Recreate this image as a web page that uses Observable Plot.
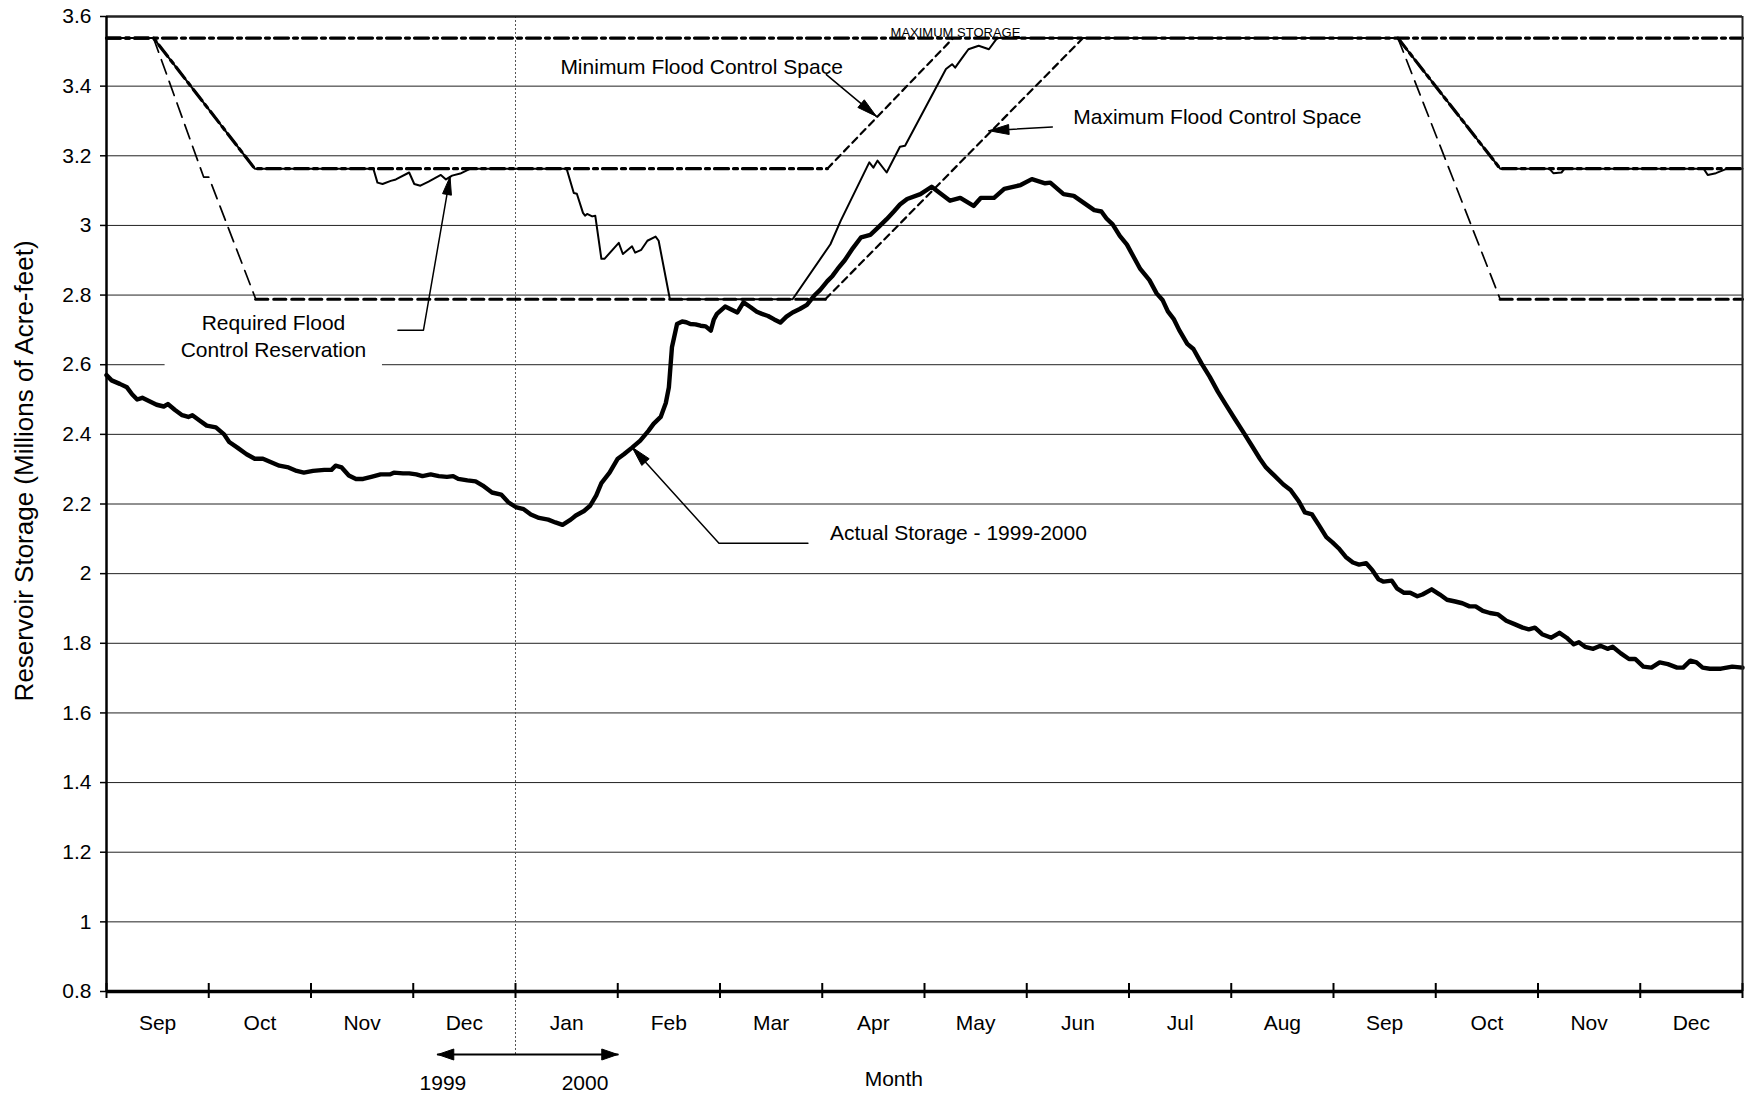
<!DOCTYPE html>
<html>
<head>
<meta charset="utf-8">
<script src="https://cdn.jsdelivr.net/npm/d3@7"></script>
<script src="https://cdn.jsdelivr.net/npm/@observablehq/plot@0.6"></script>
<style>
  body { margin: 0; background: #fff; }
  svg { display: block; }
</style>
</head>
<body>
<div id="chart"></div>
<script>
// ---------- data ----------
const months = ["Sep","Oct","Nov","Dec","Jan","Feb","Mar","Apr","May","Jun","Jul","Aug","Sep","Oct","Nov","Dec"];
const monthBoundaries = [0,1,2,3,4,5,6,7,8,9,10,11,12,13,14,15,16];
const monthCenters = [0.5,1.5,2.5,3.5,4.5,5.5,6.5,7.5,8.5,9.5,10.5,11.5,12.5,13.5,14.5,15.5];
const yTicks = [0.8,1,1.2,1.4,1.6,1.8,2,2.2,2.4,2.6,2.8,3,3.2,3.4,3.6];
const gridValues = [1,1.2,1.4,1.6,1.8,2,2.2,2.4,2.6,2.8,3,3.2,3.4];

// [month position since 1 Sep 1999, storage in MAF]
const maximumStorage = [[0,3.538],[16,3.538]];
const minFloodFlat1 = [[0,3.538],[0.46,3.538],[1.45,3.163],[7.05,3.163]];
const minFloodRise = [[7.05,3.163],[8.28,3.538]];
const minFloodFlat2 = [[12.63,3.538],[13.63,3.163],[16,3.163]];
const maxFloodDescent1 = [[0.46,3.538],[0.95,3.139],[1.0,3.139],[1.46,2.788]];
const maxFloodFlat1 = [[1.46,2.788],[7.03,2.788]];
const maxFloodRise = [[7.03,2.788],[9.55,3.538]];
const maxFloodDescent2 = [[12.63,3.538],[13.63,2.788]];
const maxFloodFlat2 = [[13.63,2.788],[16,2.788]];

const requiredReservation = [
[0,3.538],[0.46,3.538],[1.45,3.163],[2.61,3.163],[2.65,3.123],[2.7,3.119],[2.78,3.128],[2.83,3.132],[2.96,3.152],[3.01,3.119],[3.07,3.114],[3.15,3.126],[3.27,3.145],[3.32,3.132],[3.38,3.143],[3.46,3.149],[3.56,3.163],
[4.5,3.163],[4.57,3.093],[4.6,3.091],[4.66,3.036],[4.68,3.028],[4.7,3.033],[4.75,3.026],[4.78,3.028],[4.84,2.904],[4.87,2.904],[5.01,2.95],[5.05,2.918],[5.14,2.94],[5.17,2.922],[5.23,2.93],[5.29,2.956],[5.37,2.968],[5.4,2.956],[5.51,2.788],
[6.71,2.788],[7.08,2.946],[7.18,3.013],[7.46,3.181],[7.5,3.166],[7.54,3.186],[7.63,3.152],[7.76,3.226],[7.81,3.229],[8.21,3.449],[8.27,3.463],[8.3,3.453],[8.37,3.482],[8.43,3.506],[8.53,3.516],[8.63,3.506],[8.71,3.538],
[12.63,3.538],[13.63,3.163],[14.11,3.163],[14.15,3.15],[14.23,3.152],[14.26,3.163],[15.62,3.163],[15.66,3.145],[15.74,3.15],[15.85,3.163],[16,3.163]
];

const actualStorage = [
[0,2.57],[0.05,2.555],[0.13,2.545],[0.2,2.535],[0.25,2.515],[0.3,2.5],[0.35,2.505],[0.42,2.495],[0.49,2.485],[0.56,2.48],
[0.6,2.487],[0.67,2.47],[0.74,2.455],[0.8,2.45],[0.84,2.455],[0.91,2.44],[0.98,2.425],[1.07,2.42],[1.15,2.4],[1.2,2.378],
[1.28,2.362],[1.37,2.343],[1.45,2.33],[1.53,2.33],[1.61,2.32],[1.69,2.31],[1.78,2.305],[1.86,2.295],[1.93,2.29],[2.02,2.295],
[2.13,2.298],[2.2,2.298],[2.24,2.31],[2.3,2.305],[2.37,2.282],[2.44,2.272],[2.51,2.272],[2.59,2.278],[2.68,2.285],[2.77,2.285],
[2.81,2.29],[2.9,2.288],[2.96,2.288],[3.03,2.285],[3.09,2.28],[3.17,2.285],[3.25,2.28],[3.33,2.278],[3.39,2.28],[3.44,2.272],
[3.53,2.268],[3.61,2.265],[3.68,2.253],[3.77,2.233],[3.86,2.227],[3.93,2.205],[4.01,2.19],[4.08,2.185],[4.15,2.17],[4.23,2.16],
[4.32,2.155],[4.39,2.147],[4.46,2.14],[4.54,2.155],[4.59,2.167],[4.67,2.18],[4.73,2.195],[4.79,2.225],[4.84,2.26],[4.92,2.29],
[5.0,2.33],[5.06,2.343],[5.14,2.362],[5.22,2.382],[5.3,2.41],[5.35,2.43],[5.42,2.45],[5.47,2.49],[5.5,2.535],[5.53,2.65],
[5.58,2.717],[5.63,2.724],[5.67,2.722],[5.71,2.717],[5.76,2.716],[5.81,2.712],[5.86,2.71],[5.91,2.698],[5.94,2.73],[5.97,2.746],
[6.05,2.767],[6.1,2.76],[6.17,2.75],[6.23,2.779],[6.3,2.765],[6.36,2.752],[6.41,2.746],[6.47,2.74],[6.53,2.73],[6.59,2.721],
[6.65,2.738],[6.71,2.75],[6.78,2.76],[6.85,2.772],[6.92,2.798],[6.98,2.815],[7.05,2.84],[7.1,2.855],[7.15,2.875],[7.22,2.9],
[7.3,2.935],[7.38,2.966],[7.47,2.973],[7.55,2.995],[7.63,3.018],[7.7,3.04],[7.76,3.06],[7.83,3.076],[7.96,3.09],[8.07,3.111],
[8.15,3.093],[8.25,3.071],[8.35,3.079],[8.48,3.056],[8.55,3.079],[8.68,3.079],[8.78,3.105],[8.94,3.116],[9.05,3.133],[9.18,3.121],
[9.23,3.123],[9.36,3.09],[9.46,3.085],[9.66,3.044],[9.73,3.04],[9.78,3.02],[9.84,3.003],[9.91,2.97],[9.98,2.945],[10.05,2.907],
[10.11,2.875],[10.2,2.843],[10.27,2.805],[10.33,2.785],[10.38,2.753],[10.44,2.73],[10.49,2.7],[10.57,2.66],[10.63,2.645],[10.71,2.603],
[10.79,2.565],[10.87,2.522],[10.95,2.484],[11.04,2.442],[11.11,2.41],[11.2,2.368],[11.28,2.33],[11.34,2.305],[11.42,2.282],[11.51,2.256],
[11.58,2.24],[11.66,2.208],[11.72,2.176],[11.79,2.17],[11.86,2.138],[11.93,2.105],[11.99,2.09],[12.05,2.073],[12.12,2.048],[12.19,2.032],
[12.25,2.026],[12.32,2.03],[12.38,2.01],[12.44,1.984],[12.49,1.977],[12.57,1.98],[12.62,1.958],[12.69,1.945],[12.75,1.945],[12.82,1.935],
[12.87,1.94],[12.96,1.955],[13.04,1.94],[13.11,1.925],[13.19,1.92],[13.26,1.915],[13.33,1.906],[13.39,1.906],[13.46,1.893],[13.53,1.887],
[13.61,1.883],[13.69,1.865],[13.77,1.855],[13.85,1.845],[13.91,1.84],[13.97,1.845],[14.04,1.826],[14.13,1.816],[14.21,1.83],[14.28,1.816],
[14.35,1.797],[14.4,1.803],[14.46,1.79],[14.54,1.784],[14.61,1.793],[14.68,1.784],[14.73,1.79],[14.81,1.771],[14.89,1.755],[14.95,1.755],
[15.03,1.733],[15.11,1.73],[15.19,1.745],[15.27,1.74],[15.36,1.73],[15.42,1.73],[15.49,1.75],[15.55,1.745],[15.61,1.73],[15.68,1.727],
[15.79,1.727],[15.9,1.733],[16,1.73]
];

// annotations (data coordinates)
const centeredLabels = ["Minimum Flood Control Space","Required Flood\nControl Reservation"];
const centeredAnchors = [[5.82,3.461],[1.633,2.687]];
const leftLabels = ["Maximum Flood Control Space","Actual Storage - 1999-2000"];
const leftAnchors = [[9.455,3.312],[7.076,2.115]];
const labelBox = [[0.573,2.699,2.57,2.77]];
const requiredLeader = [[2.85,2.699],[3.1,2.699],[3.36,3.14]];
const minimumLeader = [[7.04,3.433],[7.53,3.313]];
const maximumLeader = [[9.25,3.283],[8.63,3.272]];
const actualLeader = [[6.86,2.087],[5.99,2.087],[5.14,2.363]];
const maxStorageLabel = ["MAXIMUM STORAGE"];
const maxStorageAnchor = [8.303,3.553];
const yearLabels = ["1999","2000"];
const yearLabelPositions = [3.29,4.68];
const yearArrow = [3.24,4.0,5.0];
const dividerMonth = [4];
const yTitle = "Reservoir Storage (Millions of Acre-feet)";
const yTitleAnchor = 2.295;
const xTitle = "Month";
const xTitleAnchor = 7.7;

// ---------- layout ----------
const W = 1752, H = 1097;
const mL = 106, mR = 10, mT = 16, mB = 106;
const X = Plot.scale({x: {domain: [0, 16], range: [mL, W - mR]}});
const Y = Plot.scale({y: {domain: [0.8, 3.6], range: [H - mB, mT]}});

function arrowHead(from, to, len, half) {
  const x0 = X.apply(from[0]), y0 = Y.apply(from[1]);
  const x1 = X.apply(to[0]), y1 = Y.apply(to[1]);
  const d = Math.hypot(x1 - x0, y1 - y0), ux = (x1 - x0) / d, uy = (y1 - y0) / d;
  const bx = x1 - ux * len, by = y1 - uy * len;
  return [[x1, y1], [bx - uy * half, by + ux * half], [bx + uy * half, by - ux * half], [x1, y1]]
    .map(([px, py]) => [X.invert(px), Y.invert(py)]);
}

const px = d => d[0], py = d => d[1];
const dashDot = "14,5,4,5";
const lineOpts = (extra) => Object.assign({x: px, y: py, stroke: "black", strokeLinejoin: "round"}, extra);

const leaders = [
  [requiredLeader, 18, 4.5],
  [minimumLeader, 20, 5],
  [maximumLeader, 20, 5],
  [actualLeader, 20, 5]
];

const marks = [
  Plot.gridY(gridValues, {stroke: "#222", strokeOpacity: 1, strokeWidth: 1}),
  Plot.rect(labelBox, {x1: d => d[0], x2: d => d[1], y1: d => d[2], y2: d => d[3], fill: "white"}),
  Plot.ruleX(dividerMonth, {y1: 3.6, y2: 0.8, insetBottom: -63, stroke: "#555", strokeWidth: 1, strokeDasharray: "2,2"}),

  // flood control space lines
  Plot.line(maximumStorage, lineOpts({strokeWidth: 3.2, strokeDasharray: dashDot, strokeLinejoin: "miter"})),
  Plot.line(minFloodFlat1, lineOpts({strokeWidth: 3.2, strokeDasharray: dashDot})),
  Plot.line(minFloodFlat2, lineOpts({strokeWidth: 3.2, strokeDasharray: dashDot})),
  Plot.line(minFloodRise, lineOpts({strokeWidth: 2.2, strokeDasharray: "7,5"})),
  Plot.line(maxFloodDescent1, lineOpts({strokeWidth: 1.7, strokeDasharray: "15,8"})),
  Plot.line(maxFloodDescent2, lineOpts({strokeWidth: 1.7, strokeDasharray: "15,8"})),
  Plot.line(maxFloodFlat1, lineOpts({strokeWidth: 3.2, strokeDasharray: "12,6"})),
  Plot.line(maxFloodFlat2, lineOpts({strokeWidth: 3.2, strokeDasharray: "12,6"})),
  Plot.line(maxFloodRise, lineOpts({strokeWidth: 2.2, strokeDasharray: "7,5"})),

  // required reservation and actual storage
  Plot.line(requiredReservation, lineOpts({strokeWidth: 2})),
  Plot.line(actualStorage, lineOpts({strokeWidth: 4.4, strokeLinecap: "round"})),

  // frame
  Plot.ruleY([3.6], {stroke: "#222", strokeWidth: 2.5}),
  Plot.ruleX([16], {stroke: "#222", strokeWidth: 2}),
  Plot.ruleX([0], {stroke: "black", strokeWidth: 2.5}),
  Plot.ruleY([0.8], {stroke: "black", strokeWidth: 3.5}),
  Plot.ruleX(monthBoundaries, {x: d => d, y1: 0.8, y2: 0.8, insetTop: -8, insetBottom: -7, stroke: "black", strokeWidth: 2}),

  // axes
  Plot.axisY(yTicks, {tickSize: 6, tickPadding: 9, strokeWidth: 1.5, fontSize: 21, tickFormat: d => String(d), label: null}),
  Plot.axisX(monthCenters, {tickSize: 0, tickPadding: 24, fontSize: 21, tickFormat: d => months[Math.floor(d)], label: null}),
  Plot.text([yTitle], {y: yTitleAnchor, frameAnchor: "left", dx: -82, rotate: -90, fontSize: 26, fill: "black", textAnchor: "middle"}),
  Plot.text([xTitle], {x: xTitleAnchor, y: 0.8, dy: 88, fontSize: 21, fill: "black"}),

  // year arrow
  Plot.line([[yearArrow[0], 0.8], [yearArrow[2], 0.8]], lineOpts({dy: 63, strokeWidth: 2})),
  Plot.line(arrowHead([yearArrow[1], 0.8], [yearArrow[0], 0.8], 16, 5.5), lineOpts({dy: 63, fill: "black", strokeWidth: 1})),
  Plot.line(arrowHead([yearArrow[1], 0.8], [yearArrow[2], 0.8], 16, 5.5), lineOpts({dy: 63, fill: "black", strokeWidth: 1})),
  Plot.text(yearLabels, {x: (d, i) => yearLabelPositions[i], y: 0.8, dy: 91.5, fontSize: 21, fill: "black"}),

  // annotations
  Plot.text(maxStorageLabel, {x: maxStorageAnchor[0], y: maxStorageAnchor[1], fontSize: 13, fill: "black"}),
  Plot.text(centeredLabels, {
    x: (d, i) => centeredAnchors[i][0],
    y: (d, i) => centeredAnchors[i][1],
    textAnchor: "middle", fontSize: 21, lineHeight: 1.29, fill: "black"
  }),
  Plot.text(leftLabels, {
    x: (d, i) => leftAnchors[i][0],
    y: (d, i) => leftAnchors[i][1],
    textAnchor: "start", fontSize: 21, fill: "black"
  })
];

for (const [pts, len, half] of leaders) {
  marks.push(Plot.line(pts, lineOpts({strokeWidth: 1.5})));
  marks.push(Plot.line(arrowHead(pts[pts.length - 2], pts[pts.length - 1], len, half), lineOpts({fill: "black", strokeWidth: 1})));
}

const chart = Plot.plot({
  width: W,
  height: H,
  marginLeft: mL,
  marginRight: mR,
  marginTop: mT,
  marginBottom: mB,
  x: {domain: [0, 16]},
  y: {domain: [0.8, 3.6]},
  style: {fontFamily: "'Liberation Sans', Arial, Helvetica, sans-serif", fontSize: "21px", color: "black", background: "white"},
  marks
});
document.getElementById("chart").appendChild(chart);
</script>
</body>
</html>
